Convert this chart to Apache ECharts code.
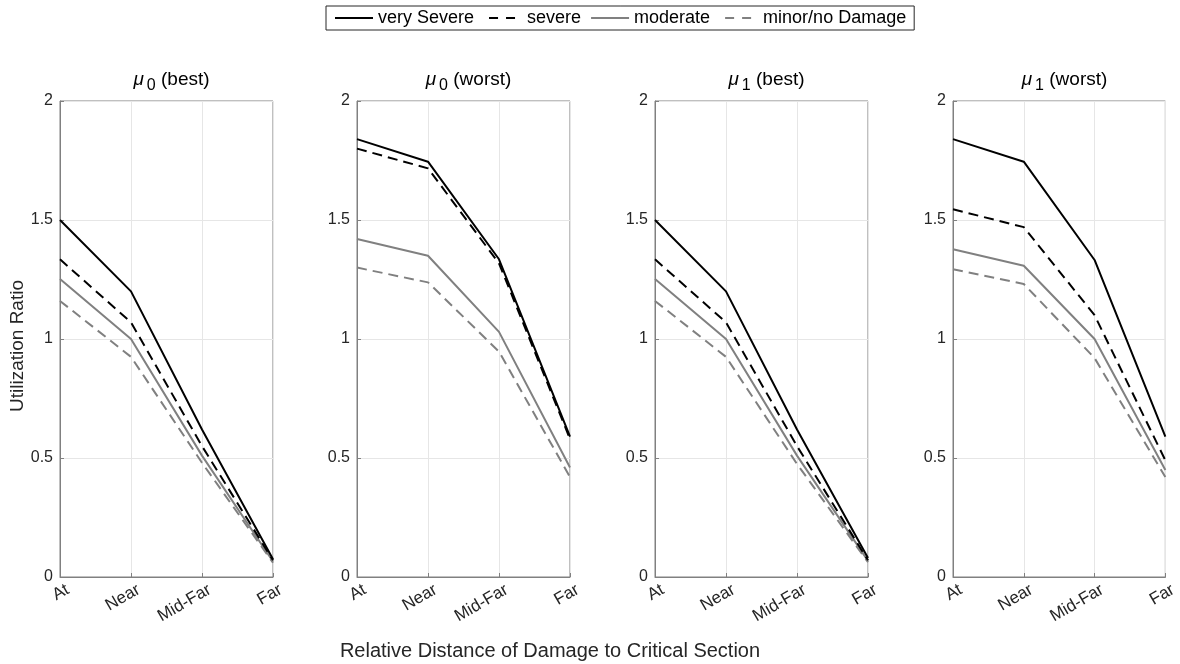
<!DOCTYPE html>
<html>
<head>
<meta charset="utf-8">
<script src="https://cdn.jsdelivr.net/npm/echarts@6/dist/echarts.min.js"></script>
<style>
  html, body { margin: 0; padding: 0; background: #fff; }
  #chart { width: 1180px; height: 664px; }
</style>
</head>
<body>
<div id="chart"></div>
<script>
// Damage location categories along the x axis
const categories = ['At', 'Near', 'Mid-Far', 'Far'];
const yTicks = [0, 0.5, 1, 1.5, 2];

// Panel headings: friction coefficient subscript and case
const panelSymbols = ['0', '0', '1', '1'];
const panelCases = ['best', 'worst', 'best', 'worst'];

// Utilization ratio per damage class, one row per panel
const verySevere = [
  [1.50, 1.20, 0.62, 0.075],
  [1.84, 1.745, 1.335, 0.59],
  [1.50, 1.20, 0.62, 0.08],
  [1.84, 1.745, 1.332, 0.59]
];
const severe = [
  [1.335, 1.07, 0.55, 0.07],
  [1.80, 1.717, 1.318, 0.58],
  [1.335, 1.07, 0.55, 0.07],
  [1.545, 1.47, 1.10, 0.49]
];
const moderate = [
  [1.252, 1.00, 0.51, 0.065],
  [1.42, 1.35, 1.03, 0.46],
  [1.252, 1.00, 0.51, 0.068],
  [1.377, 1.308, 1.00, 0.45]
];
const minorNoDamage = [
  [1.16, 0.925, 0.48, 0.06],
  [1.30, 1.238, 0.947, 0.42],
  [1.16, 0.925, 0.475, 0.062],
  [1.293, 1.231, 0.92, 0.42]
];

const seriesNames = ['very Severe', 'severe', 'moderate', 'minor/no Damage'];
const seriesData = [verySevere, severe, moderate, minorNoDamage];
const seriesColors = ['#000000', '#000000', '#808080', '#808080'];
const seriesDash = ['solid', [10, 6], 'solid', [10, 6]];

const FONT = '"Liberation Sans", Arial, Helvetica, sans-serif';
const AXIS_GRAY = '#808080';
const GRID_GRAY = '#e6e6e6';
const TEXT_DARK = '#262626';
const panelLeft = [60, 357, 655, 953];
const panelWidth = 213;
const panelTop = 101;
const panelHeight = 476;

const grids = [], xAxes = [], yAxes = [], series = [], titles = [];

panelLeft.forEach((left, p) => {
  grids.push({
    left: left, top: panelTop, width: panelWidth, height: panelHeight,
    show: true, borderColor: AXIS_GRAY, borderWidth: 1,
    backgroundColor: 'transparent'
  });
  xAxes.push({
    type: 'category', gridIndex: p, data: categories, boundaryGap: false,
    axisLine: { lineStyle: { color: AXIS_GRAY, width: 1 } },
    axisTick: { show: true, inside: true, length: 4, lineStyle: { color: AXIS_GRAY } },
    splitLine: { show: true, lineStyle: { color: GRID_GRAY, width: 1 } },
    axisLabel: {
      rotate: 30, margin: 16, fontSize: 17, color: TEXT_DARK, fontFamily: FONT,
      interval: 0, padding: [0, -9, 0, 0]
    }
  });
  yAxes.push({
    type: 'value', gridIndex: p, min: 0, max: 2, interval: 0.5,
    axisLine: { show: true, lineStyle: { color: AXIS_GRAY, width: 1 } },
    axisTick: { show: true, inside: true, length: 4, lineStyle: { color: AXIS_GRAY } },
    splitLine: { show: true, lineStyle: { color: GRID_GRAY, width: 1 } },
    axisLabel: {
      fontSize: 16, color: TEXT_DARK, fontFamily: FONT, margin: 7,
      formatter: v => (yTicks.includes(v) ? String(v) : '')
    }
  });
  seriesNames.forEach((name, s) => {
    series.push({
      name: name, type: 'line', xAxisIndex: p, yAxisIndex: p,
      data: seriesData[s][p], symbol: 'none', silent: true, animation: false,
      color: seriesColors[s],
      lineStyle: { color: seriesColors[s], width: 2, type: seriesDash[s] },
      z: 10 - s
    });
  });
  titles.push({
    text: '{mu|μ}{sub|' + panelSymbols[p] + '}{txt| (' + panelCases[p] + ')}',
    left: left + panelWidth / 2, top: 65, textAlign: 'center',
    textStyle: {
      fontWeight: 'normal',
      rich: {
        mu: { fontSize: 19, fontStyle: 'italic', fontWeight: 'normal', fontFamily: FONT, color: '#000', lineHeight: 22, verticalAlign: 'top' },
        sub: { fontSize: 16, fontWeight: 'normal', fontFamily: FONT, color: '#000', lineHeight: 22, verticalAlign: 'top', padding: [8, 0, 0, 3] },
        txt: { fontSize: 19, fontWeight: 'normal', fontFamily: FONT, color: '#000', lineHeight: 22, verticalAlign: 'top' }
      }
    }
  });
});

// Legend entries; dashed samples show two short dashes
const legendDash = { type: [9, 8], dashOffset: -5 };
const legendData = seriesNames.map((name, s) => (
  seriesDash[s] === 'solid' ? { name: name } : { name: name, lineStyle: legendDash }
));

const chart = echarts.init(document.getElementById('chart'), null, { renderer: 'canvas' });
chart.setOption({
  animation: false,
  backgroundColor: '#fff',
  title: titles,
  legend: {
    data: legendData,
    left: 326, top: 6,
    orient: 'horizontal',
    itemWidth: 38, itemHeight: 14, itemGap: 9,
    padding: [3, 8, 3, 8],
    borderColor: TEXT_DARK, borderWidth: 1,
    selectedMode: false,
    itemStyle: { opacity: 0 },
    textStyle: { fontSize: 18, color: '#000', fontFamily: FONT }
  },
  grid: grids,
  xAxis: xAxes,
  yAxis: yAxes,
  series: series,
  graphic: [
    {
      type: 'text', x: 18, y: 346, rotation: Math.PI / 2,
      style: { text: 'Utilization Ratio', font: '19px ' + FONT, fill: TEXT_DARK, align: 'center', verticalAlign: 'middle' }
    },
    {
      type: 'text', x: 550, y: 651,
      style: { text: 'Relative Distance of Damage to Critical Section', font: '20px ' + FONT, fill: TEXT_DARK, align: 'center', verticalAlign: 'middle' }
    }
  ]
});
</script>
</body>
</html>
